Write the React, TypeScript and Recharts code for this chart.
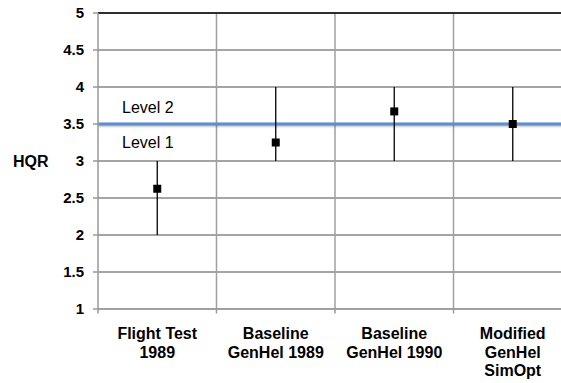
import {
  ComposedChart,
  Scatter,
  ErrorBar,
  XAxis,
  YAxis,
  CartesianGrid,
  ReferenceLine,
  Label,
} from 'recharts'

const categories = ['Flight Test\n1989', 'Baseline\nGenHel 1989', 'Baseline\nGenHel 1990', 'Modified\nGenHel\nSimOpt']
const means = [2.625, 3.25, 3.67, 3.5]
const lows = [2, 3, 3, 3]
const highs = [3, 4, 4, 4]
const yTicks = [1, 1.5, 2, 2.5, 3, 3.5, 4, 4.5, 5]
const boundaryTicks = [0, 1, 2, 3, 4]
const centerTicks = [0.5, 1.5, 2.5, 3.5]
const levelBoundary = 3.5

// slot i holds category i, centred at i + 0.5
const data = categories.map((name, i) => ({
  name,
  slot: i + 0.5,
  hqr: means[i],
  err: [means[i] - lows[i], highs[i] - means[i]],
}))

const FONT = '"Liberation Sans", Arial, sans-serif'
const GRID = '#a0a0a0'

function CategoryTick({ x, y, payload }: any) {
  const label = categories[Math.floor(payload.value)] ?? ''
  const lines = label.split('\n')
  return (
    <text x={x} y={y} textAnchor="middle" fontFamily={FONT} fontSize={16} fontWeight="bold" fill="#000">
      {lines.map((line, i) => (
        <tspan key={i} x={x} dy={i === 0 ? 30 : 18.5}>{line}</tspan>
      ))}
    </text>
  )
}

const Square = (p: any) => <rect x={p.cx - 4} y={p.cy - 4} width={8} height={8} fill="#000" />

export default function App() {
  return (
    <div style={{ position: 'absolute', left: 0, top: 0, width: 561, height: 383, overflow: 'hidden' }}>
      <ComposedChart width={561} height={383} data={data} margin={{ top: 13, right: -11, bottom: 0, left: 0 }}>
        <CartesianGrid horizontal vertical={false} stroke={GRID} strokeWidth={1.5} strokeOpacity={1} />
        <XAxis
          type="number"
          dataKey="slot"
          domain={[0, 4]}
          ticks={centerTicks}
          height={74}
          stroke="#999"
          strokeWidth={1.5}
          tickLine={false}
          tickSize={0}
          tickMargin={0}
          interval={0}
          tick={<CategoryTick />}
        />
        <YAxis
          domain={[1, 5]}
          ticks={yTicks}
          width={98}
          tickSize={5}
          tickMargin={9}
          stroke="#999"
          strokeWidth={1.5}
          tick={{ fontFamily: FONT, fontSize: 15, fontWeight: 'bold', fill: '#000' }}
        >
          <Label value="HQR" position="insideLeft" offset={13} fontFamily={FONT} fontSize={16} fontWeight="bold" fill="#000" />
        </YAxis>
        {yTicks.filter(v => v > 1 && v < 5).map(v => (
          <ReferenceLine
            key={'h' + v}
            y={v}
            stroke="#9f9f9f"
            strokeWidth={1.6}
            ifOverflow="visible"
          />
        ))}
        {boundaryTicks.filter(v => v > 0).map(v => (
          <ReferenceLine key={'v' + v} x={v} stroke={GRID} strokeWidth={1.5} ifOverflow="visible" />
        ))}
        {boundaryTicks.map(v => (
          <ReferenceLine
            key={'t' + v}
            segment={[{ x: v, y: 1 }, { x: v, y: 0.94 }]}
            stroke="#999"
            strokeWidth={1.5}
            ifOverflow="visible"
          />
        ))}
        <ReferenceLine y={5} stroke="#000" strokeWidth={1.5} />
        <ReferenceLine y={levelBoundary} stroke="#5b8fd0" strokeWidth={3} style={{ filter: 'drop-shadow(0px 1.5px 1px rgba(0,0,0,0.3))' }}>
          <Label value="Level 2" position="insideLeft" offset={24} dy={-17} fontFamily={FONT} fontSize={16} fill="#000" />
          <Label value="Level 1" position="insideLeft" offset={24} dy={18} fontFamily={FONT} fontSize={16} fill="#000" />
        </ReferenceLine>
        <Scatter dataKey="hqr" shape={Square} isAnimationActive={false}>
          <ErrorBar dataKey="err" direction="y" width={0} stroke="#000" strokeWidth={1.3} />
        </Scatter>
      </ComposedChart>
    </div>
  )
}
